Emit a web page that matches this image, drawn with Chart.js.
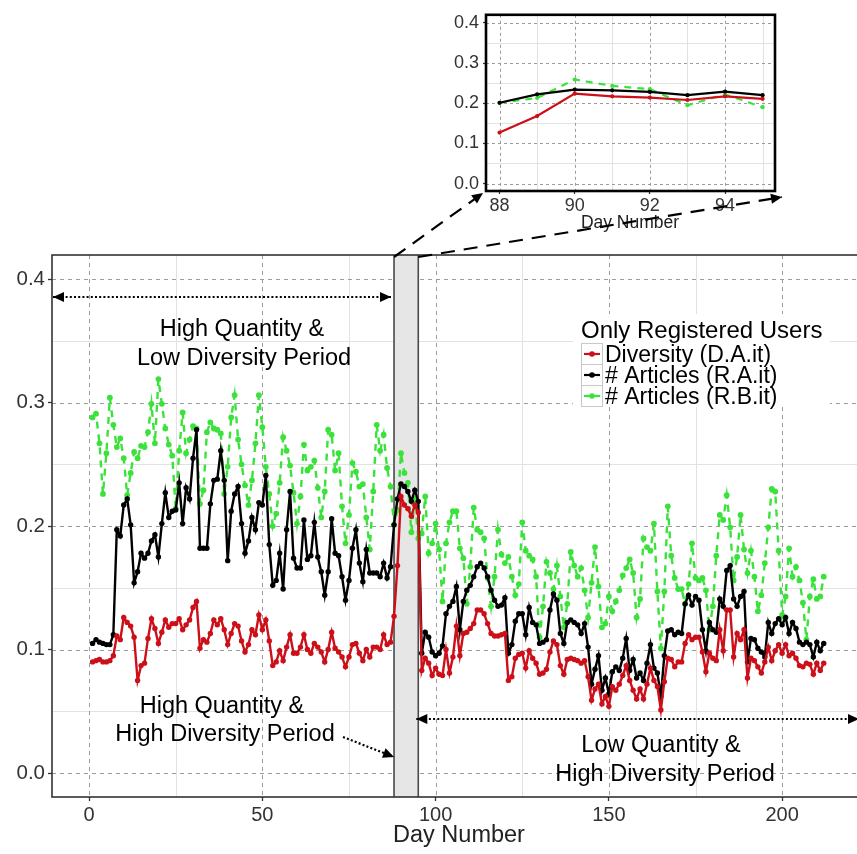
<!DOCTYPE html>
<html lang="en">
<head>
  <meta charset="UTF-8" />
  <title>Diversity and articles per day</title>
  <script src="https://cdn.jsdelivr.net/npm/chart.js"></script>
  <style>
    html, body {
      margin: 0;
      padding: 0;
      background: #fff;
      overflow: hidden;
    }
    #wrap {
      position: relative;
      width: 857px;
      height: 854px;
      overflow: hidden;
    }
    #insetChart { position: absolute; left: 440px; top: 0; }
    #mainChart { position: absolute; left: 0; top: 0; }
  </style>
</head>
<body>
  <div id="wrap">
    <canvas id="insetChart" width="360" height="240"></canvas>
    <canvas id="mainChart" width="870" height="854"></canvas>
  </div>

  <script>
    // day numbers start at 1, one value per day
    const firstDay = 1;

    const diversityDA = [
      0.090,0.091,0.092,0.090,0.090,0.091,0.095,0.111,0.108,0.126,
      0.122,0.119,0.110,0.075,0.087,0.089,0.109,0.125,0.117,0.105,
      0.114,0.124,0.118,0.121,0.121,0.125,0.116,0.120,0.124,0.134,
      0.139,0.101,0.108,0.106,0.113,0.124,0.120,0.125,0.116,0.104,
      0.113,0.121,0.119,0.107,0.098,0.104,0.116,0.112,0.128,0.116,
      0.124,0.107,0.087,0.090,0.099,0.091,0.102,0.112,0.097,0.097,
      0.102,0.112,0.100,0.097,0.105,0.102,0.098,0.090,0.100,0.114,
      0.101,0.098,0.094,0.086,0.094,0.104,0.105,0.097,0.091,0.100,
      0.094,0.102,0.102,0.100,0.112,0.104,0.106,0.127,0.168,0.224,
      0.217,0.214,0.208,0.217,0.211,0.083,0.093,0.089,0.079,0.085,
      0.080,0.079,0.100,0.081,0.094,0.119,0.095,0.113,0.114,0.117,
      0.121,0.132,0.132,0.129,0.121,0.113,0.111,0.111,0.112,0.113,
      0.075,0.078,0.093,0.096,0.097,0.085,0.099,0.093,0.089,0.080,
      0.081,0.084,0.098,0.107,0.104,0.087,0.080,0.092,0.093,0.092,
      0.091,0.089,0.091,0.078,0.059,0.068,0.072,0.056,0.062,0.054,
      0.070,0.067,0.072,0.079,0.087,0.075,0.067,0.060,0.068,0.060,
      0.072,0.085,0.075,0.070,0.051,0.074,0.093,0.092,0.086,0.090,
      0.090,0.105,0.112,0.108,0.110,0.110,0.098,0.082,0.097,0.093,
      0.091,0.116,0.099,0.132,0.132,0.094,0.113,0.108,0.116,0.077,
      0.093,0.091,0.086,0.081,0.090,0.102,0.091,0.099,0.104,0.097,
      0.104,0.095,0.097,0.093,0.087,0.086,0.089,0.088,0.080,0.089,
      0.083,0.089
    ];

    const articlesRA = [
      0.105,0.108,0.106,0.105,0.104,0.104,0.112,0.197,0.192,0.217,
      0.222,0.201,0.154,0.163,0.178,0.174,0.178,0.188,0.193,0.175,
      0.202,0.227,0.207,0.212,0.213,0.235,0.202,0.231,0.222,0.255,
      0.278,0.182,0.182,0.182,0.218,0.237,0.238,0.261,0.237,0.172,
      0.212,0.226,0.232,0.202,0.178,0.188,0.207,0.197,0.219,0.217,
      0.241,0.185,0.152,0.156,0.178,0.149,0.197,0.228,0.174,0.166,
      0.166,0.205,0.173,0.176,0.203,0.175,0.163,0.144,0.163,0.206,
      0.178,0.176,0.159,0.140,0.156,0.182,0.197,0.170,0.155,0.181,
      0.162,0.162,0.162,0.159,0.170,0.158,0.167,0.201,0.222,0.234,
      0.232,0.228,0.220,0.229,0.220,0.097,0.114,0.110,0.098,0.095,
      0.097,0.103,0.129,0.135,0.139,0.151,0.116,0.139,0.148,0.152,
      0.159,0.167,0.170,0.166,0.159,0.148,0.140,0.135,0.136,0.142,
      0.097,0.104,0.123,0.129,0.129,0.112,0.134,0.122,0.120,0.105,
      0.106,0.108,0.132,0.145,0.140,0.113,0.105,0.122,0.124,0.122,
      0.120,0.113,0.121,0.102,0.072,0.084,0.095,0.067,0.077,0.064,
      0.082,0.086,0.083,0.093,0.109,0.083,0.092,0.077,0.081,0.075,
      0.089,0.104,0.085,0.081,0.062,0.095,0.115,0.116,0.112,0.114,
      0.113,0.137,0.144,0.136,0.143,0.140,0.116,0.099,0.122,0.116,
      0.114,0.141,0.135,0.164,0.168,0.141,0.135,0.143,0.147,0.090,
      0.109,0.108,0.101,0.098,0.094,0.122,0.113,0.121,0.125,0.120,
      0.126,0.113,0.122,0.117,0.106,0.104,0.106,0.104,0.094,0.106,
      0.099,0.105
    ];

    const articlesRB = [
      0.288,0.291,0.267,0.226,0.259,0.304,0.282,0.264,0.271,0.255,
      0.225,0.243,0.260,0.255,0.265,0.264,0.276,0.299,0.267,0.319,
      0.299,0.279,0.266,0.257,0.214,0.261,0.292,0.259,0.270,0.281,
      0.279,0.218,0.229,0.276,0.284,0.279,0.278,0.275,0.226,0.248,
      0.288,0.306,0.270,0.250,0.233,0.217,0.237,0.267,0.306,0.280,
      0.248,0.226,0.200,0.210,0.235,0.272,0.261,0.249,0.227,0.202,
      0.224,0.266,0.245,0.248,0.253,0.231,0.207,0.228,0.278,0.274,
      0.245,0.259,0.216,0.186,0.209,0.251,0.244,0.232,0.234,0.207,
      0.181,0.228,0.282,0.261,0.274,0.247,0.232,0.201,0.213,0.259,
      0.243,0.235,0.195,0.222,0.190,0.194,0.224,0.178,0.186,0.202,
      0.181,0.139,0.186,0.203,0.212,0.212,0.182,0.174,0.137,0.167,
      0.215,0.197,0.195,0.190,0.158,0.135,0.159,0.197,0.177,0.170,
      0.175,0.159,0.144,0.153,0.203,0.180,0.176,0.173,0.159,0.110,
      0.135,0.171,0.162,0.149,0.168,0.143,0.118,0.137,0.179,0.168,
      0.159,0.166,0.148,0.126,0.154,0.183,0.151,0.118,0.121,0.143,
      0.131,0.139,0.148,0.160,0.166,0.173,0.162,0.126,0.141,0.190,
      0.183,0.180,0.202,0.147,0.101,0.147,0.216,0.176,0.158,0.149,
      0.149,0.137,0.153,0.186,0.158,0.156,0.158,0.148,0.116,0.135,
      0.176,0.209,0.205,0.225,0.199,0.156,0.175,0.209,0.181,0.162,
      0.180,0.159,0.131,0.144,0.170,0.199,0.230,0.228,0.180,0.128,
      0.143,0.182,0.159,0.167,0.156,0.138,0.108,0.143,0.157,0.141,
      0.143,0.159
    ];

    const seriesLabels = ['Diversity (D.A.it)', '# Articles (R.A.it)', '# Articles (R.B.it)'];
    const legendTitle = 'Only Registered Users';

    // main chart ticks
    const xTicks = [0, 50, 100, 150, 200];
    const xMinor = [25, 75, 125, 175, 225];
    const yTicks = [0, 0.1, 0.2, 0.3, 0.4];
    const yMinor = [0.05, 0.15, 0.25, 0.35];

    // the zoomed period (days)
    const zoomPeriod = [88, 95];
    const insetXTicks = [88, 90, 92, 94];
    const insetXMinor = [89, 91, 93, 95];

    const RED = '#cc0f18';
    const BLACK = '#000000';
    const GREEN = '#3ce23c';
    const FONT = '"Liberation Sans", Arial, Helvetica, sans-serif';

    const points = values => values.map((v, i) => ({ x: firstDay + i, y: v }));
    const inZoom = values => points(values).filter(p => p.x >= zoomPeriod[0] && p.x <= zoomPeriod[1]);

    function lineSet(label, data, color, dashed, width, radius) {
      return {
        label: label,
        data: data,
        borderColor: color,
        backgroundColor: color,
        pointBackgroundColor: color,
        pointBorderWidth: 0,
        pointRadius: radius,
        borderWidth: width,
        borderDash: dashed ? [7, 6] : [],
        tension: 0
      };
    }

    function arrowHead(ctx, x1, y1, x2, y2, len, half) {
      const a = Math.atan2(y2 - y1, x2 - x1);
      const c = Math.cos(a), s = Math.sin(a);
      ctx.beginPath();
      ctx.moveTo(x2, y2);
      ctx.lineTo(x2 - len * c + half * s, y2 - len * s - half * c);
      ctx.lineTo(x2 - len * c - half * s, y2 - len * s + half * c);
      ctx.closePath();
      ctx.fill();
    }

    function arrow(ctx, x1, y1, x2, y2, dash, both) {
      ctx.save();
      ctx.strokeStyle = '#000';
      ctx.fillStyle = '#000';
      ctx.lineWidth = 2.2;
      ctx.setLineDash(dash);
      ctx.beginPath();
      ctx.moveTo(x1, y1);
      ctx.lineTo(x2, y2);
      ctx.stroke();
      ctx.setLineDash([]);
      arrowHead(ctx, x1, y1, x2, y2, 11, 5);
      if (both) arrowHead(ctx, x2, y2, x1, y1, 11, 5);
      ctx.restore();
    }

    // panel background, grid lines, highlighted band and border
    function makePanel(cfg) {
      return {
        id: 'panel',
        beforeDraw(chart) {
          const { ctx, chartArea: a } = chart;
          ctx.save();
          ctx.fillStyle = '#fff';
          ctx.fillRect(a.left, a.top, a.width, a.height);
          ctx.restore();
        },
        beforeDatasetsDraw(chart) {
          const { ctx, chartArea: a, scales: { x, y } } = chart;
          ctx.save();
          ctx.beginPath();
          ctx.rect(a.left, a.top, a.width, a.height);
          ctx.clip();
          const vline = v => {
            const p = Math.round(x.getPixelForValue(v)) + 0.5;
            ctx.beginPath(); ctx.moveTo(p, a.top); ctx.lineTo(p, a.bottom); ctx.stroke();
          };
          const hline = v => {
            const p = Math.round(y.getPixelForValue(v)) + 0.5;
            ctx.beginPath(); ctx.moveTo(a.left, p); ctx.lineTo(a.right, p); ctx.stroke();
          };
          ctx.lineWidth = 1;
          ctx.strokeStyle = '#e2e2e2';
          cfg.xMinor.forEach(vline);
          cfg.yMinor.forEach(hline);
          ctx.strokeStyle = '#9c9c9c';
          ctx.setLineDash(cfg.dash);
          cfg.xMajor.forEach(vline);
          cfg.yMajor.forEach(hline);
          ctx.setLineDash([]);
          if (cfg.band) {
            const l = x.getPixelForValue(cfg.band[0]);
            const r = x.getPixelForValue(cfg.band[1]);
            ctx.fillStyle = '#e6e6e6';
            ctx.fillRect(l, a.top, r - l, a.height);
            ctx.strokeStyle = '#4a4a4a';
            ctx.lineWidth = 1.6;
            ctx.beginPath();
            ctx.moveTo(l, a.top); ctx.lineTo(l, a.bottom);
            ctx.moveTo(r, a.top); ctx.lineTo(r, a.bottom);
            ctx.stroke();
          }
          ctx.restore();
        },
        afterDatasetsDraw(chart) {
          const { ctx, chartArea: a } = chart;
          ctx.save();
          ctx.strokeStyle = cfg.borderColor;
          ctx.lineWidth = cfg.borderWidth;
          ctx.strokeRect(a.left, a.top, a.width, a.height);
          ctx.restore();
        }
      };
    }

    // legend, period notes, arrows and axis title of the main chart
    const notesPlugin = {
      id: 'notes',
      afterDraw(chart) {
        const { ctx, chartArea: a, scales: { x } } = chart;
        const px = d => x.getPixelForValue(d);
        ctx.save();

        // legend
        ctx.fillStyle = '#fff';
        ctx.fillRect(573, 314, 257, 93);
        ctx.fillStyle = '#000';
        ctx.font = '24px ' + FONT;
        ctx.textAlign = 'left';
        ctx.textBaseline = 'alphabetic';
        ctx.fillText(legendTitle, 581, 338);
        ctx.font = '23px ' + FONT;
        const keyColors = [RED, BLACK, GREEN];
        seriesLabels.forEach((lab, i) => {
          const top = 343 + i * 21;
          ctx.strokeStyle = '#c8c8c8';
          ctx.lineWidth = 1;
          ctx.strokeRect(581.5, top + 0.5, 21, 21);
          ctx.strokeStyle = keyColors[i];
          ctx.fillStyle = keyColors[i];
          ctx.lineWidth = 2.2;
          ctx.beginPath();
          ctx.moveTo(584, top + 11); ctx.lineTo(600, top + 11);
          ctx.stroke();
          ctx.beginPath();
          ctx.arc(592, top + 11, 2.8, 0, Math.PI * 2);
          ctx.fill();
          ctx.fillStyle = '#000';
          ctx.fillText(lab, 605, top + 18.5);
        });

        // period notes
        ctx.font = '23.5px ' + FONT;
        ctx.textAlign = 'center';
        ctx.fillStyle = '#000';
        ctx.fillText('High Quantity &', 242, 336);
        ctx.fillText('Low Diversity Period', 244, 365);
        ctx.fillText('High Quantity &', 222, 713);
        ctx.fillText('High Diversity Period', 225, 741);
        ctx.fillText('Low Quantity &', 661, 752);
        ctx.fillText('High Diversity Period', 665, 781);

        const bandL = px(zoomPeriod[0]);
        const bandR = px(zoomPeriod[1]);
        arrow(ctx, a.left + 1, 297, bandL - 3, 297, [2, 2.2], true);
        arrow(ctx, bandR - 2, 719, 859, 719, [2, 2.2], true);
        arrow(ctx, 343, 737, bandL, 757, [2, 2.2], false);

        // dashed connectors to the zoomed view
        arrow(ctx, bandL, a.top + 2, 483, 193, [14, 9], false);
        arrow(ctx, bandR, a.top + 2, 782, 197, [14, 9], false);

        // axis title
        ctx.font = '23.5px ' + FONT;
        ctx.fillStyle = '#222';
        ctx.fillText('Day Number', 459, 842);
        ctx.restore();
      }
    };

    const mainChart = new Chart(document.getElementById('mainChart'), {
      type: 'line',
      data: {
        datasets: [
          lineSet(seriesLabels[0], points(diversityDA), RED, false, 2.4, 2.7),
          lineSet(seriesLabels[1], points(articlesRA), BLACK, false, 2.4, 2.7),
          lineSet(seriesLabels[2], points(articlesRB), GREEN, true, 2.4, 2.9)
        ]
      },
      options: {
        responsive: false,
        animation: false,
        layout: { padding: { top: 255, left: 0, right: 0, bottom: 0 } },
        plugins: {
          legend: { display: false },
          tooltip: { enabled: false }
        },
        scales: {
          x: {
            type: 'linear',
            min: -10.7,
            max: 224.2,
            afterBuildTicks: s => { s.ticks = xTicks.map(v => ({ value: v })); },
            afterFit: s => { s.height = 57; },
            border: { display: false },
            grid: { display: true, drawOnChartArea: false, drawTicks: true, tickLength: 4, tickColor: '#333', tickWidth: 1.3 },
            ticks: { color: '#333', font: { family: FONT, size: 20 }, padding: 2, maxRotation: 0, callback: v => String(v) }
          },
          y: {
            type: 'linear',
            min: -0.0194,
            max: 0.4195,
            afterBuildTicks: s => { s.ticks = yTicks.map(v => ({ value: v })); },
            afterFit: s => { s.width = 52; },
            border: { display: false },
            grid: { display: true, drawOnChartArea: false, drawTicks: true, tickLength: 4, tickColor: '#333', tickWidth: 1.3 },
            ticks: { color: '#333', font: { family: FONT, size: 20.5 }, padding: 3, callback: v => v.toFixed(1) }
          }
        }
      },
      plugins: [
        makePanel({ xMajor: xTicks, xMinor: xMinor, yMajor: yTicks, yMinor: yMinor, dash: [4, 4], band: zoomPeriod, borderColor: '#333', borderWidth: 1.6 }),
        notesPlugin
      ]
    });

    const insetTitle = {
      id: 'insetTitle',
      afterDraw(chart) {
        const { ctx } = chart;
        ctx.save();
        ctx.font = '17.5px ' + FONT;
        ctx.fillStyle = '#222';
        ctx.textAlign = 'center';
        ctx.fillText('Day Number', 190, 228);
        ctx.restore();
      }
    };

    const insetChart = new Chart(document.getElementById('insetChart'), {
      type: 'line',
      data: {
        datasets: [
          lineSet(seriesLabels[0], inZoom(diversityDA), RED, false, 2.2, 2.1),
          lineSet(seriesLabels[1], inZoom(articlesRA), BLACK, false, 2.2, 2.1),
          lineSet(seriesLabels[2], inZoom(articlesRB), GREEN, true, 2.2, 2.1)
        ]
      },
      options: {
        responsive: false,
        animation: false,
        layout: { padding: { top: 8, left: 0, right: 25, bottom: 0 } },
        plugins: {
          legend: { display: false },
          tooltip: { enabled: false }
        },
        scales: {
          x: {
            type: 'linear',
            min: 87.64,
            max: 95.33,
            afterBuildTicks: s => { s.ticks = insetXTicks.map(v => ({ value: v })); },
            afterFit: s => { s.height = 49; },
            border: { display: false },
            grid: { display: true, drawOnChartArea: false, drawTicks: true, tickLength: 3, tickColor: '#333', tickWidth: 1.2 },
            ticks: { color: '#333', font: { family: FONT, size: 18 }, padding: 1, maxRotation: 0, callback: v => String(v) }
          },
          y: {
            type: 'linear',
            min: -0.0185,
            max: 0.42,
            afterBuildTicks: s => { s.ticks = yTicks.map(v => ({ value: v })); },
            afterFit: s => { s.width = 46; },
            border: { display: false },
            grid: { display: true, drawOnChartArea: false, drawTicks: true, tickLength: 3, tickColor: '#333', tickWidth: 1.2 },
            ticks: { color: '#333', font: { family: FONT, size: 18 }, padding: 4, callback: v => v.toFixed(1) }
          }
        }
      },
      plugins: [
        makePanel({ xMajor: insetXTicks, xMinor: insetXMinor, yMajor: yTicks, yMinor: yMinor, dash: [3, 3], band: null, borderColor: '#000', borderWidth: 2.6 }),
        insetTitle
      ]
    });
  </script>
</body>
</html>
